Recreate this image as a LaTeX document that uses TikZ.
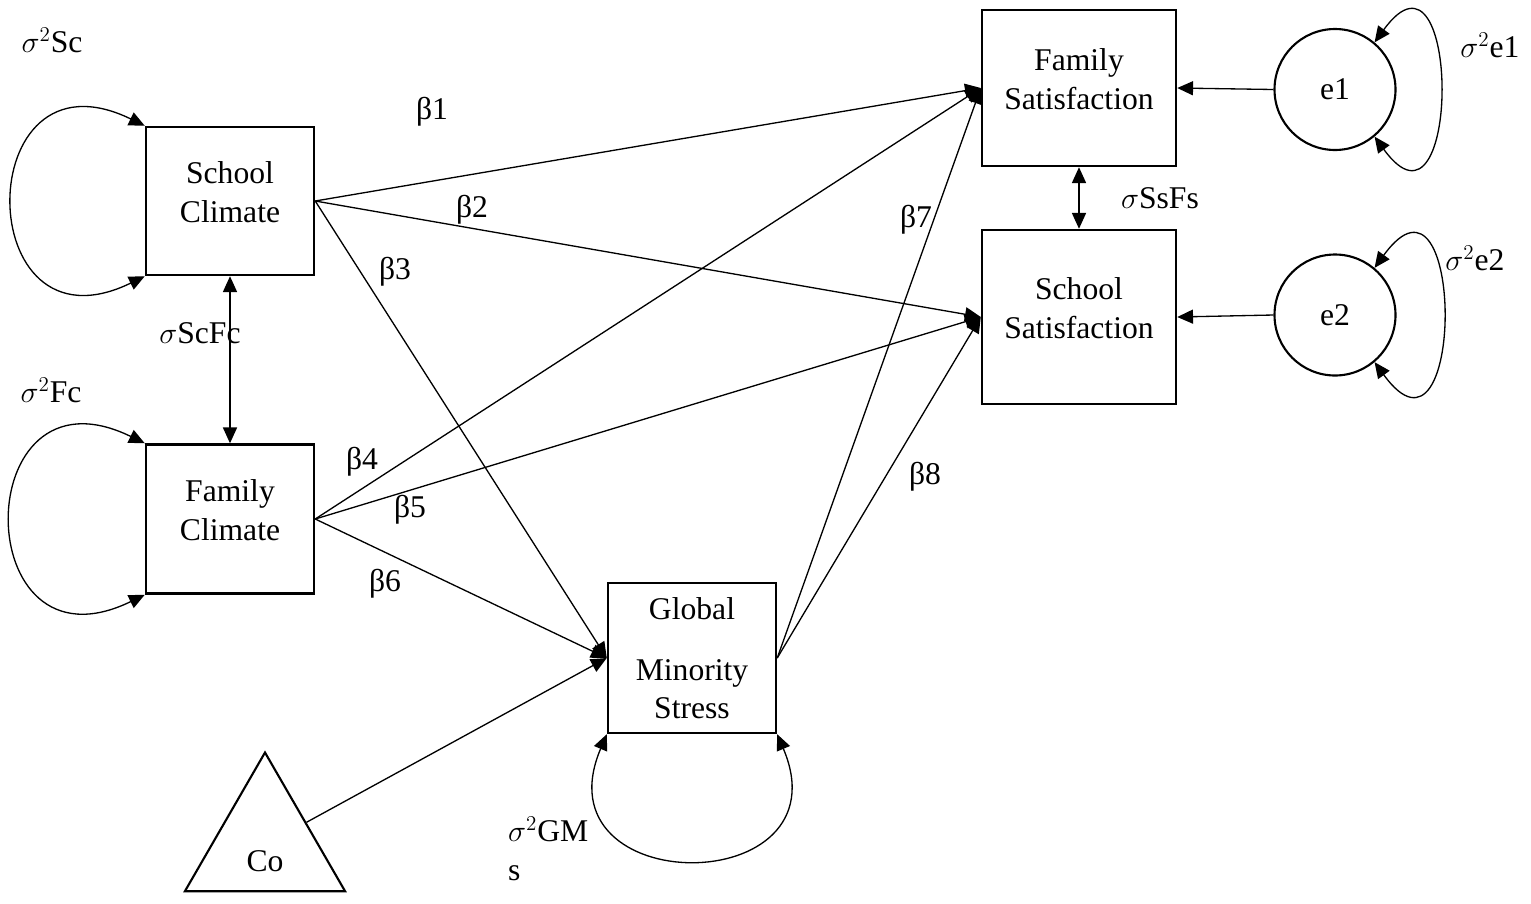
\documentclass[tikz,border=0pt]{standalone}
\usepackage{fontspec}
\setmainfont{Liberation Serif}
\usepackage{tikz}
\usetikzlibrary{shapes.geometric,arrows.meta,positioning}

\begin{document}
\begin{tikzpicture}[
    font=\fontsize{18}{22}\selectfont,
    box/.style={rectangle, draw, line width=1.4pt, align=center, inner sep=2pt, minimum width=3.36cm, minimum height=2.96cm, text depth=0.35cm},
    errnode/.style={circle, draw, line width=1.2pt, minimum size=2.42cm},
    constnode/.style={regular polygon, regular polygon sides=3, draw, line width=1.2pt, minimum size=3.7cm, text height=1.05cm, text depth=0pt},
    lbl/.style={inner sep=1pt},
    arrow/.style={line width=0.75pt, -{Triangle[length=9pt,width=8pt]}},
    twoway/.style={line width=0.75pt, {Triangle[length=9pt,width=8pt]}-{Triangle[length=9pt,width=8pt]}}
]
\useasboundingbox (0,0) rectangle (30.62,-18.06);

% Left column - predictors
\node[box] (school_climate) at (4.6,-4.02) {School\\Climate};
\node[box, minimum height=2.98cm] (family_climate) at (4.6,-10.38) {Family\\Climate};
\node[constnode] (covar) at (5.3,-16.9) {Co};

% Middle - mediator
\node[box, minimum height=3cm, text depth=0cm] (minority_stress) at (13.84,-13.16) {Global\\[0.45cm]Minority\\Stress};

% Right column - outcomes and residuals
\node[box, minimum width=3.88cm, minimum height=3.12cm] (family_sat) at (21.58,-1.76) {Family\\Satisfaction};
\node[box, minimum width=3.88cm, minimum height=3.48cm] (school_sat) at (21.58,-6.34) {School\\Satisfaction};
\node[errnode] (e1) at (26.7,-1.79) {e1};
\node[errnode] (e2) at (26.7,-6.3) {e2};

% Labels
\node[lbl] (var_sc) at (1.04,-0.8) {$\sigma^2$Sc};
\node[lbl] (var_fc) at (1.02,-7.8) {$\sigma^2$Fc};
\node[lbl, align=left, anchor=north west] (var_gms) at (10.12,-16.3) {$\sigma^2$GM\\s};
\node[lbl] (var_e1) at (29.8,-0.9) {$\sigma^2$e1};
\node[lbl] (var_e2) at (29.5,-5.16) {$\sigma^2$e2};
\node[lbl] (cov_scfc) at (4.0,-6.66) {$\sigma$ScFc};
\node[lbl] (cov_ssfs) at (23.2,-3.96) {$\sigma$SsFs};
\node[lbl] (beta1) at (8.64,-2.24) {β1};
\node[lbl] (beta2) at (9.44,-4.2) {β2};
\node[lbl] (beta3) at (7.9,-5.44) {β3};
\node[lbl] (beta4) at (7.24,-9.24) {β4};
\node[lbl] (beta5) at (8.2,-10.2) {β5};
\node[lbl] (beta6) at (7.7,-11.68) {β6};
\node[lbl] (beta7) at (18.32,-4.4) {β7};
\node[lbl] (beta8) at (18.5,-9.54) {β8};

% Arrows
\draw[arrow] (school_climate.east) -- (family_sat.west);
\draw[arrow] (school_climate.east) -- (school_sat.west);
\draw[arrow] (school_climate.east) -- (minority_stress.west);
\draw[arrow] (family_climate.east) -- (family_sat.west);
\draw[arrow] (family_climate.east) -- (school_sat.west);
\draw[arrow] (family_climate.east) -- (minority_stress.west);
\draw[arrow] (covar) -- (minority_stress.west);
\draw[arrow] (minority_stress.east) -- (family_sat.west);
\draw[arrow] (minority_stress.east) -- (school_sat.west);
\draw[arrow] (e1.west) -- (family_sat.east);
\draw[arrow] (e2.west) -- (school_sat.east);

% Covariances and variances
\draw[twoway] (school_climate.south) -- (family_climate.north);
\draw[twoway] (family_sat.south) -- (school_sat.north);
\draw[twoway] (school_climate.south west) to[out=206, in=154, distance=3.9cm] (school_climate.north west);
\draw[twoway] (family_climate.south west) to[out=206, in=154, distance=3.95cm] (family_climate.north west);
\draw[twoway] (minority_stress.south west) to[out=-113, in=-67, distance=3.62cm] (minority_stress.south east);
\draw[twoway] (e1.-50) to[out=-54, in=54, distance=2.96cm] (e1.50);
\draw[twoway] (e2.-50) to[out=-54, in=54, distance=3.1cm] (e2.50);

\end{tikzpicture}
\end{document}
